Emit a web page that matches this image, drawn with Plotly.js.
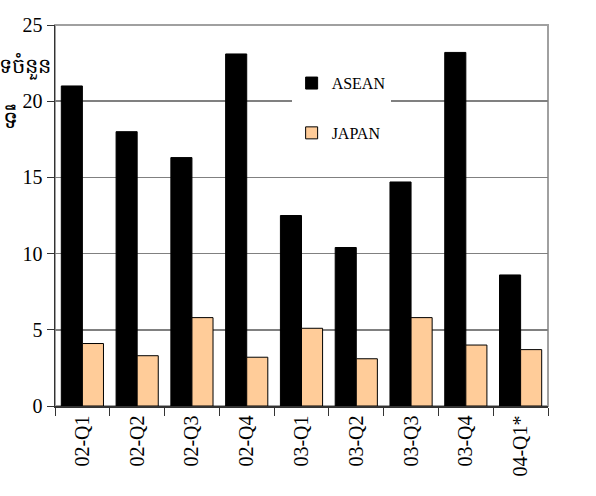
<!DOCTYPE html>
<html>
<head>
<meta charset="utf-8">
<script src="https://cdn.plot.ly/plotly-3.0.1.min.js"></script>
<style>html,body{margin:0;padding:0;background:#fff}#chart{width:596px;height:496px}</style>
</head>
<body>
<div id="chart"></div>
<script>
const categories = ["02-Q1","02-Q2","02-Q3","02-Q4","03-Q1","03-Q2","03-Q3","03-Q4","04-Q1*"];
const aseanValues = [21.0, 18.0, 16.3, 23.1, 12.5, 10.4, 14.7, 23.2, 8.6];
const japanValues = [4.1, 3.3, 5.8, 3.2, 5.1, 3.1, 5.8, 4.0, 3.7];
const yTickValues = [0, 5, 10, 15, 20, 25];
const yTitleLine1 = "ទចំនួន";
const yTitleLine2 = "ទឹ";

const serif = "'Liberation Serif', 'Times New Roman', serif";

const traces = [
  {type: "bar", name: "ASEAN", x: categories, y: aseanValues,
   marker: {color: "#000000", line: {color: "#000000", width: 1}},
   legendgroup: "a"},
  {type: "bar", name: "JAPAN", x: categories, y: japanValues,
   marker: {color: "#FFCC99", line: {color: "#000000", width: 1}},
   legendgroup: "b"}
];

const layout = {
  width: 596, height: 496,
  margin: {l: 55, r: 48, t: 25, b: 90},
  paper_bgcolor: "#ffffff", plot_bgcolor: "#ffffff",
  barmode: "group", bargap: 0.23, bargroupgap: 0,
  font: {family: serif, color: "#000000"},
  showlegend: true,
  legend: {x: 0.48, y: 0.892, xanchor: "left", yanchor: "top",
           bgcolor: "#ffffff", borderwidth: 0,
           font: {family: serif, size: 16, color: "#000"},
           traceorder: "grouped", tracegroupgap: 26,
           itemwidth: 30},
  xaxis: {type: "category", tickangle: -90, ticks: "outside", tickson: "boundaries",
          ticklen: 8, tickcolor: "#333", showline: true, linecolor: "#333", linewidth: 1.5,
          tickfont: {family: serif, size: 20, color: "#000"}, showgrid: false},
  yaxis: {range: [0, 25], tickvals: yTickValues, ticks: "outside", ticklen: 7, tickcolor: "#333",
          showline: true, linecolor: "#333", linewidth: 1.5,
          showgrid: true, gridcolor: "#808080", gridwidth: 1.5, zeroline: false,
          tickfont: {family: serif, size: 20, color: "#000"}},
  shapes: [{type: "rect", xref: "paper", yref: "paper", x0: 0, x1: 1, y0: 0, y1: 1,
            line: {color: "#a0a0a0", width: 2}, layer: "below"}],
  annotations: [
    {text: yTitleLine1, xref: "paper", yref: "paper", x: -0.004, y: 0.89,
     xanchor: "right", yanchor: "middle", showarrow: false,
     font: {size: 21, color: "#000"}},
    {text: yTitleLine2, xref: "paper", yref: "paper", x: -0.07, y: 0.755,
     xanchor: "right", yanchor: "middle", showarrow: false,
     font: {size: 24, color: "#000"}}
  ]
};

Plotly.newPlot("chart", traces, layout, {displayModeBar: false, staticPlot: true});
</script>
</body>
</html>
